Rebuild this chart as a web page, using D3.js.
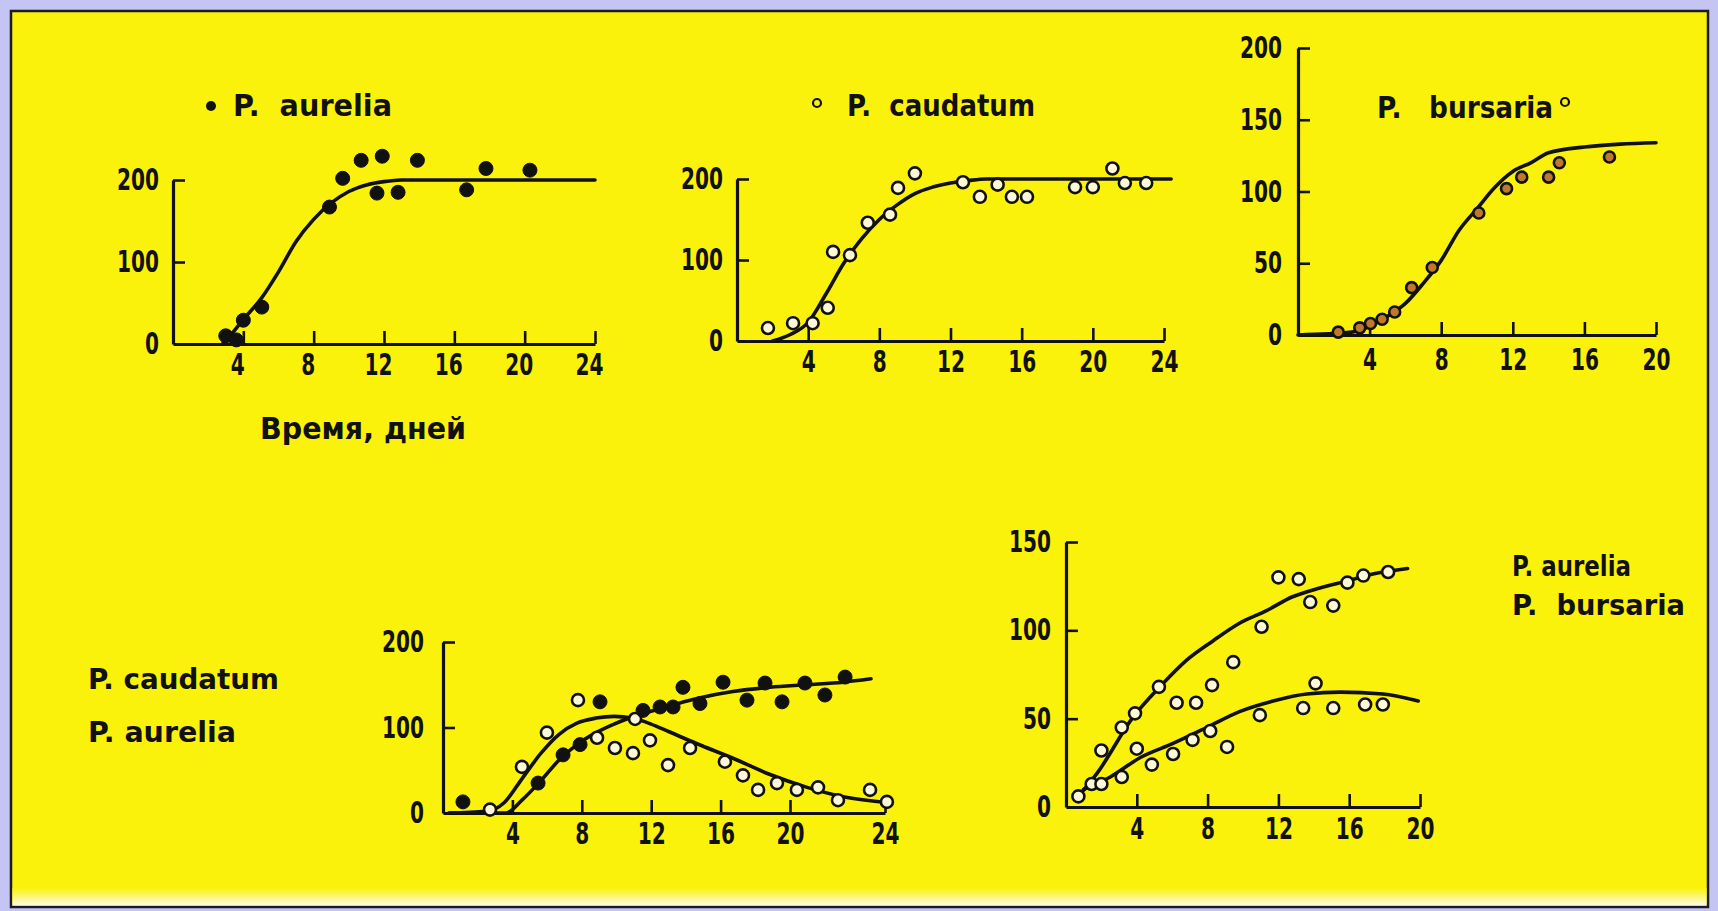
<!DOCTYPE html>
<html>
<head>
<meta charset="utf-8">
<script src="https://cdn.jsdelivr.net/npm/d3@7"></script>
<style>
  html, body { margin: 0; padding: 0; background: #c4c5f2; }
  svg { display: block; }
  .num { font-family: "Liberation Sans Narrow", "Arial Narrow", "DejaVu Sans Condensed", sans-serif; font-weight: bold; font-size: 30px; fill: #111; }
  .lbl { font-family: "DejaVu Sans", "Liberation Sans", sans-serif; font-weight: bold; font-size: 30px; fill: #111; white-space: pre; }
</style>
</head>
<body>
<svg id="chart" width="1718" height="911"></svg>
<script>
// Single cultures: day, number of cells
const aureliaPoints = [[3, 10], [3.6, 5], [4, 29], [5.05, 45], [8.9, 167], [9.65, 202], [10.7, 224],
    [11.6, 184], [11.9, 229], [12.8, 185], [13.9, 224], [16.7, 188], [17.8, 214], [20.3, 212]];
const aureliaCurve = [[2.8, 0], [3, 4], [4, 30], [5, 55], [6, 88], [7, 125], [8, 152], [9, 172],
    [10, 186], [11, 194], [12, 198], [13, 200], [24, 200]];

const caudatumPoints = [[1.74, 16], [3.15, 22], [4.25, 22], [5.1, 41], [5.4, 110], [6.35, 106],
    [7.35, 146], [8.6, 156], [9.05, 189], [10, 207], [12.7, 196], [13.65, 178], [14.65, 193],
    [15.45, 178], [16.3, 178], [19, 190], [20, 190], [21.1, 213], [21.8, 195], [23, 195]];
const caudatumCurve = [[2, 0], [3, 8], [4, 23], [5, 58], [6, 96], [7, 126], [8, 150], [9, 168],
    [10, 182], [11, 190], [12, 195], [13, 198], [14, 200], [24.4, 200]];

const bursariaPoints = [[2.25, 2], [3.45, 5], [4.05, 8], [4.7, 11], [5.4, 16], [6.35, 33], [7.5, 47],
    [10.1, 85], [11.65, 102], [12.5, 110], [14, 110], [14.6, 120], [17.4, 124]];
const bursariaCurve = [[0, 0], [3, 2], [4, 6], [5, 13], [6, 22], [7, 36], [8, 52], [9, 73], [10, 88],
    [11, 103], [12, 114], [13, 120], [14, 127], [16, 131], [18, 133], [20, 134]];

// Mixed culture: P. caudatum + P. aurelia
const mixCaudatumPoints = [[2.71, 4], [4.55, 54], [5.99, 94], [7.78, 132], [8.88, 88], [9.91, 76],
    [10.95, 70], [11.07, 110], [11.93, 85], [12.97, 56], [14.24, 76], [16.25, 60], [17.29, 44],
    [18.16, 27], [19.25, 35], [20.29, 27], [21.18, 30], [22.02, 15], [23.37, 27], [24.08, 13]];
const mixCaudatumCurve = [[0.35, 0], [2.48, 2], [3.52, 12], [4.55, 40], [5.65, 70], [6.69, 92],
    [7.72, 105], [8.82, 111], [9.86, 113], [10.89, 111], [11.99, 104], [13.03, 95], [14.64, 81],
    [16.71, 64], [18.85, 45], [20.72, 30], [22.24, 19], [24.17, 12]];
const mixAureliaPoints = [[1.15, 13], [5.48, 35], [6.92, 68], [7.9, 80], [9.05, 130], [11.53, 120],
    [12.51, 124], [13.26, 124], [13.83, 147], [14.81, 128], [16.14, 153], [17.52, 132], [18.56, 152],
    [19.54, 130], [20.63, 152], [21.47, 138], [22.32, 159]];
const mixAureliaCurve = [[0.35, 0], [3.63, 0], [4.55, 15], [5.65, 38], [6.69, 62], [7.72, 80],
    [8.82, 94], [9.86, 104], [10.89, 112], [12.51, 122], [14.64, 134], [16.71, 142], [18.85, 147],
    [20.72, 150], [22.24, 153], [23.41, 157]];

// Mixed culture: P. aurelia + P. bursaria
const mix2AureliaPoints = [[0.7, 6], [2, 32], [3.15, 45], [3.9, 53], [5.25, 68], [6.25, 59], [7.35, 59],
    [8.25, 69], [9.45, 82], [11.05, 102], [12, 130], [13.15, 129], [13.8, 116], [15.1, 114],
    [15.9, 127], [16.8, 131], [18.2, 133]];
const mix2AureliaCurve = [[0.7, 6], [1.75, 19], [3.8, 51], [5.3, 68], [6.8, 83], [8.3, 94], [9.8, 104],
    [11.3, 111], [12.8, 119], [14.35, 124], [15.9, 128], [17.4, 132], [19.3, 135]];
const mix2BursariaPoints = [[1.45, 13], [2, 13], [3.15, 17], [4, 33], [4.85, 24], [6.05, 30], [7.15, 38],
    [8.15, 43], [9.1, 34], [10.95, 52], [13.4, 56], [14.1, 70], [15.1, 56], [16.9, 58], [17.9, 58]];
const mix2BursariaCurve = [[1, 10], [2.5, 17], [4.2, 28], [6.05, 36], [7.95, 45], [9.8, 54], [11.7, 60],
    [13.6, 64], [15.5, 65], [17.9, 64], [19.9, 60]];

// Tick labels
const xTicks24 = [4, 8, 12, 16, 20, 24];
const xTicks20 = [4, 8, 12, 16, 20];
const yTicks200 = [0, 100, 200];
const yTicks200by50 = [0, 50, 100, 150, 200];
const yTicks150 = [0, 50, 100, 150];

const svg = d3.select('#chart');
const W = 1718, H = 911;
const DIGIT_W = 14;

// Background, frame
const defs = svg.append('defs');
const grad = defs.append('linearGradient').attr('id', 'fade').attr('x1', 0).attr('y1', 0).attr('x2', 0).attr('y2', 1);
grad.append('stop').attr('offset', '0%').attr('stop-color', '#fbf20c');
grad.append('stop').attr('offset', '100%').attr('stop-color', '#fdfbe8');

svg.append('rect').attr('width', W).attr('height', H).attr('fill', '#c4c5f2');
svg.append('rect').attr('x', 11).attr('y', 11).attr('width', 1697).attr('height', 896)
    .attr('fill', '#fbf20c').attr('stroke', '#1a1a2a').attr('stroke-width', 2.5);
svg.append('rect').attr('x', 12.5).attr('y', 888).attr('width', 1694).attr('height', 17.5)
    .attr('fill', 'url(#fade)');

function panel(cfg) {
    const g = svg.append('g');
    const x = d3.scaleLinear().domain(cfg.xDomain).range(cfg.xRange);
    const y = d3.scaleLinear().domain(cfg.yDomain).range(cfg.yRange);
    const x0 = cfg.xRange[0];

    const xAxis = g.append('g')
        .attr('transform', `translate(0,${cfg.yRange[0]})`)
        .call(d3.axisBottom(x).tickValues(cfg.xTicks).tickSizeInner(-13).tickSizeOuter(0).tickPadding(cfg.xPad));
    const yAxis = g.append('g')
        .attr('transform', `translate(${x0},0)`)
        .call(d3.axisLeft(y).tickValues(cfg.yTicks).tickSizeInner(-12).tickSizeOuter(0).tickPadding(cfg.yPad));

    [xAxis, yAxis].forEach(a => {
        a.select('.domain').attr('stroke', '#111').attr('stroke-width', 3.2);
        a.selectAll('.tick line').attr('stroke', '#111').attr('stroke-width', 2.6);
        a.selectAll('.tick text')
            .attr('class', 'num').attr('font-family', null).attr('font-size', null).attr('fill', null)
            .attr('textLength', d => String(d).length * DIGIT_W)
            .attr('lengthAdjust', 'spacingAndGlyphs');
    });
    yAxis.selectAll('.tick').filter(d => d === 0).select('line').remove();
    if (cfg.xDx) xAxis.selectAll('.tick text').attr('dx', cfg.xDx);

    const line = d3.line().x(d => x(d[0])).y(d => y(d[1])).curve(d3.curveMonotoneX);
    cfg.curves.forEach(c => {
        g.append('path').datum(c).attr('d', line)
            .attr('fill', 'none').attr('stroke', '#111').attr('stroke-width', 3.6)
            .attr('stroke-linejoin', 'round').attr('stroke-linecap', 'round');
    });

    cfg.series.forEach(s => {
        g.append('g').selectAll('circle').data(s.data).join('circle')
            .attr('cx', d => x(d[0])).attr('cy', d => y(d[1]))
            .attr('r', s.r)
            .attr('fill', s.fill)
            .attr('stroke', '#111')
            .attr('stroke-width', s.filled ? 1 : 2.6);
    });
}

const filled = { r: 7, fill: '#111', filled: true };
const open = { r: 6, fill: '#fdf9d8', filled: false };
const brown = { r: 5.5, fill: '#c0782a', filled: false };

panel({
    xDomain: [0, 24], xRange: [173, 595], yDomain: [0, 200], yRange: [344, 180],
    xTicks: xTicks24, yTicks: yTicks200, xPad: 10, yPad: 14, xDx: -6,
    curves: [aureliaCurve],
    series: [{ data: aureliaPoints, ...filled }]
});
panel({
    xDomain: [0, 24], xRange: [737, 1164], yDomain: [0, 200], yRange: [341, 179],
    xTicks: xTicks24, yTicks: yTicks200, xPad: 10, yPad: 14,
    curves: [caudatumCurve],
    series: [{ data: caudatumPoints, ...open }]
});
panel({
    xDomain: [0, 20], xRange: [1298, 1656], yDomain: [0, 200], yRange: [335, 48],
    xTicks: xTicks20, yTicks: yTicks200by50, xPad: 14, yPad: 16,
    curves: [bursariaCurve],
    series: [{ data: bursariaPoints, ...brown }]
});
panel({
    xDomain: [0, 20, 24], xRange: [443, 790, 885], yDomain: [0, 200], yRange: [813, 642],
    xTicks: xTicks24, yTicks: yTicks200, xPad: 10, yPad: 19,
    curves: [mixCaudatumCurve, mixAureliaCurve],
    series: [{ data: mixCaudatumPoints, ...open }, { data: mixAureliaPoints, ...filled }]
});
panel({
    xDomain: [0, 20], xRange: [1066, 1420], yDomain: [0, 150], yRange: [807, 542],
    xTicks: xTicks20, yTicks: yTicks150, xPad: 11, yPad: 15,
    curves: [mix2AureliaCurve, mix2BursariaCurve],
    series: [{ data: mix2AureliaPoints, ...open }, { data: mix2BursariaPoints, ...open }]
});

// Labels, each fitted to the width it takes in the figure
function label(txt, x, yBase, width, size) {
    svg.append('text').attr('class', 'lbl').attr('x', x).attr('y', yBase)
        .style('font-size', size + 'px')
        .attr('textLength', width).attr('lengthAdjust', 'spacingAndGlyphs').text(txt);
}
svg.append('circle').attr('cx', 211).attr('cy', 106).attr('r', 5).attr('fill', '#111');
label('P.  aurelia', 233, 116, 159, 31);
svg.append('circle').attr('cx', 817).attr('cy', 103).attr('r', 4).attr('fill', 'none').attr('stroke', '#111').attr('stroke-width', 2.2);
label('P.  caudatum', 847, 116, 188, 31);
label('P.   bursaria', 1377, 118, 176, 31);
svg.append('circle').attr('cx', 1565).attr('cy', 102).attr('r', 4).attr('fill', 'none').attr('stroke', '#111').attr('stroke-width', 2.2);

label('Время, дней', 260, 439, 206, 30);

label('P. caudatum', 88, 689, 191, 29);
label('P. aurelia', 88, 742, 148, 29);
label('P. aurelia', 1512, 576, 119, 29);
label('P.  bursaria', 1512, 615, 173, 29);
</script>
</body>
</html>
